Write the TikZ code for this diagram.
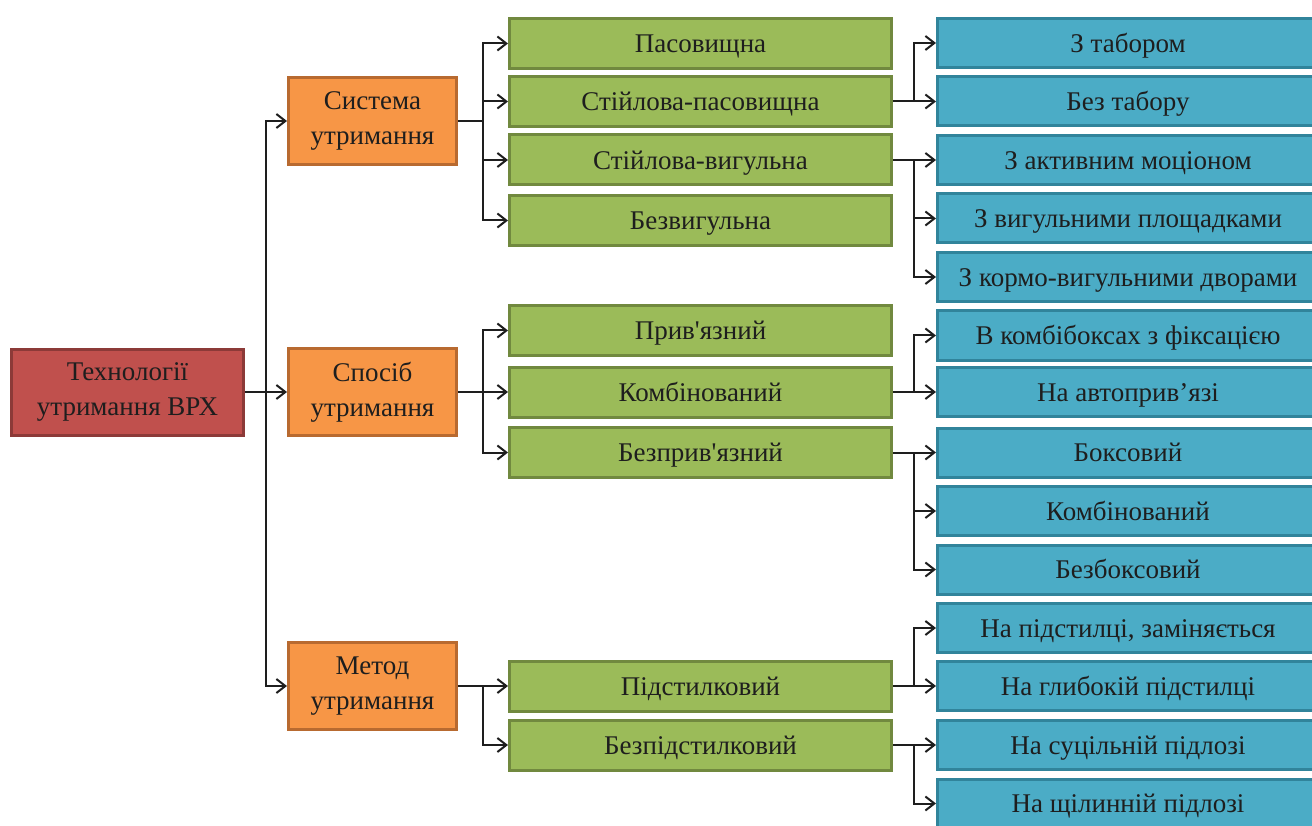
\documentclass[tikz,border=0pt]{standalone}
\usepackage{fontspec}
\setmainfont{Liberation Serif}
\usepackage{xcolor}
\usetikzlibrary{arrows.meta}
\definecolor{rootfill}{HTML}{C0504D}
\definecolor{rootline}{HTML}{8C3A38}
\definecolor{midfill}{HTML}{F79646}
\definecolor{midline}{HTML}{B86A30}
\definecolor{grfill}{HTML}{9BBB59}
\definecolor{grline}{HTML}{71893F}
\definecolor{blfill}{HTML}{4BACC6}
\definecolor{blline}{HTML}{31849B}
\definecolor{txt}{HTML}{1E1E1E}

\begin{document}
\begin{tikzpicture}[x=1pt,y=-1pt,
		box/.style={rectangle,line width=3pt,text=txt,align=center,inner sep=0pt,
			font=\fontsize{27}{35}\selectfont},
		root/.style={box,fill=rootfill,draw=rootline,minimum width=232pt,minimum height=86pt,
			yshift=-3pt},
		mid/.style={box,fill=midfill,draw=midline,minimum width=168pt,minimum height=87pt,
			yshift=-3pt},
		green/.style={box,fill=grfill,draw=grline,minimum width=382pt,minimum height=50pt,
			text height=18.5pt,text depth=0pt},
		blue/.style={box,fill=blfill,draw=blline,minimum width=381pt,minimum height=49pt,
			text height=18.5pt,text depth=0pt},
		link/.style={-{Straight Barb[length=9pt,width=14pt]},line width=2pt,draw=txt}]
		\clip (0,0) rectangle (1312,826);
		%
		\node[root] (tech) at (127.5,389) {Технології\\утримання ВРХ};
		\node[mid] (sys) at (372.5,118) {Система\\утримання};
		\node[mid] (way) at (372.5,389) {Спосіб\\утримання};
		\node[mid] (meth) at (372.5,683) {Метод\\утримання};
		%
		\node[green] (pas) at (700.5,43.5) {Пасовищна};
		\node[green] (stp) at (700.5,101.5) {Стійлова-пасовищна};
		\node[green] (stv) at (700.5,160) {Стійлова-вигульна};
		\node[green] (bvyg) at (700.5,220.5) {Безвигульна};
		\node[green] (priv) at (700.5,330.5) {Прив\textquotesingle язний};
		\node[green] (komb) at (700.5,392) {Комбінований};
		\node[green] (bpriv) at (700.5,452.5) {Безприв\textquotesingle язний};
		\node[green] (pidst) at (700.5,686) {Підстилковий};
		\node[green] (bpidst) at (700.5,745) {Безпідстилковий};
		%
		\node[blue] (tab) at (1128,43) {З табором};
		\node[blue] (btab) at (1128,101.5) {Без табору};
		\node[blue] (akt) at (1128,160) {З активним моціоном};
		\node[blue] (vyg) at (1128,218.5) {З вигульними площадками};
		\node[blue] (korm) at (1128,277) {З кормо-вигульними дворами};
		\node[blue] (kfix) at (1128,335.5) {В комбібоксах з фіксацією};
		\node[blue] (avto) at (1128,392) {На автоприв’язі};
		\node[blue] (boks) at (1128,452.5) {Боксовий};
		\node[blue] (kboks) at (1128,511) {Комбінований};
		\node[blue] (bboks) at (1128,569.5) {Безбоксовий};
		\node[blue] (zamin) at (1128,628) {На підстилці, заміняється};
		\node[blue] (glyb) at (1128,686) {На глибокій підстилці};
		\node[blue] (sutsil) at (1128,745) {На суцільній підлозі};
		\node[blue] (shchil) at (1128,803.5) {На щілинній підлозі};
		%
		\foreach \c in {sys,way,meth}
			\draw[link] (tech.east) -- ++(21,0) |- (\c.west);
		\foreach \c in {pas,stp,stv,bvyg}
			\draw[link] (sys.east) -- ++(25,0) |- (\c.west);
		\foreach \c in {priv,komb,bpriv}
			\draw[link] (way.east) -- ++(25,0) |- (\c.west);
		\foreach \c in {pidst,bpidst}
			\draw[link] (meth.east) -- ++(25,0) |- (\c.west);
		%
		\foreach \c in {tab,btab}
			\draw[link] (stp.east) -- ++(21,0) |- (\c.west);
		\foreach \c in {akt,vyg,korm}
			\draw[link] (stv.east) -- ++(21,0) |- (\c.west);
		\foreach \c in {kfix,avto}
			\draw[link] (komb.east) -- ++(21,0) |- (\c.west);
		\foreach \c in {boks,kboks,bboks}
			\draw[link] (bpriv.east) -- ++(21,0) |- (\c.west);
		\foreach \c in {zamin,glyb}
			\draw[link] (pidst.east) -- ++(21,0) |- (\c.west);
		\foreach \c in {sutsil,shchil}
			\draw[link] (bpidst.east) -- ++(21,0) |- (\c.west);
\end{tikzpicture}
\end{document}
